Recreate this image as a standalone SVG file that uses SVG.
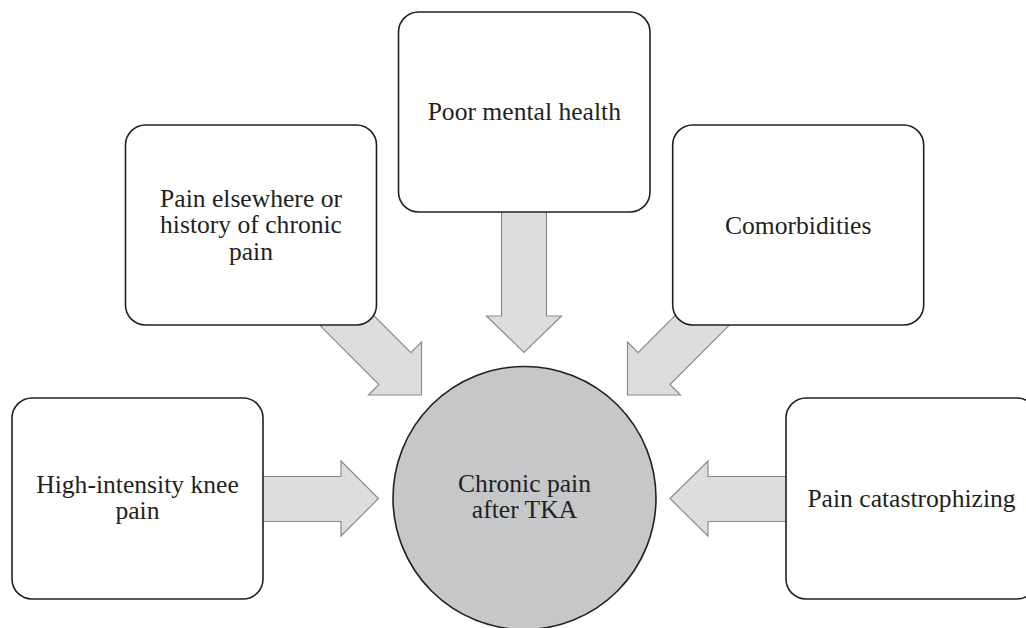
<svg xmlns="http://www.w3.org/2000/svg" width="1026" height="628" viewBox="0 0 1026 628">
<style>
.box{fill:#ffffff;stroke:#231f20;stroke-width:1.6}
.arrow{fill:#dcdddf;stroke:#8c8c8e;stroke-width:1.2;stroke-linejoin:miter}
.hub{fill:#c6c7c9;stroke:#231f20;stroke-width:1.6}
text{font-family:"Liberation Serif","Times New Roman",serif;font-size:25.6px;fill:#231f20;text-anchor:middle}
</style>
<rect width="1026" height="628" fill="#ffffff"/>
<g id="connectors">
<polygon class="arrow" points="250,476.5 341,476.5 341,461 378.5,498.5 341,536 341,521.5 250,521.5"/>
<polygon class="arrow" points="800,476.5 708,476.5 708,461 670,498.5 708,536 708,521.5 800,521.5"/>
<polygon class="arrow" points="501.5,200 546.5,200 546.5,316 561.5,316 524,352.5 486.5,316 501.5,316"/>
<polygon class="arrow" points="330,271.7 410.9,352.6 421.5,342 421.5,395 368.5,395 379,384.5 298.1,303.6"/>
<polygon class="arrow" points="719,271.7 638.1,352.6 627.5,342 627.5,395 680.5,395 670,384.5 750.9,303.6"/>
</g>
<g id="node-hub">
<circle class="hub" cx="524.5" cy="498" r="131.5"/>
<text x="524.5" y="491.5">Chronic pain</text>
<text x="524.5" y="518.3">after TKA</text>
</g>
<g id="node-knee">
<rect class="box" x="12" y="398" width="251" height="201" rx="20" ry="20"/>
<text x="137.5" y="492.5">High-intensity knee</text>
<text x="137.5" y="519.2">pain</text>
</g>
<g id="node-elsewhere">
<rect class="box" x="125.5" y="125" width="251" height="200" rx="20" ry="20"/>
<text x="251" y="206.7">Pain elsewhere or</text>
<text x="251" y="233.3">history of chronic</text>
<text x="251" y="260">pain</text>
</g>
<g id="node-mental">
<rect class="box" x="398.5" y="12" width="251.5" height="200" rx="20" ry="20"/>
<text x="524.3" y="120">Poor mental health</text>
</g>
<g id="node-comorbid">
<rect class="box" x="672.7" y="125" width="251" height="200" rx="20" ry="20"/>
<text x="798.2" y="234">Comorbidities</text>
</g>
<g id="node-catastrophizing">
<rect class="box" x="786" y="398" width="251" height="201" rx="20" ry="20"/>
<text x="911.5" y="506.7">Pain catastrophizing</text>
</g>
</svg>
